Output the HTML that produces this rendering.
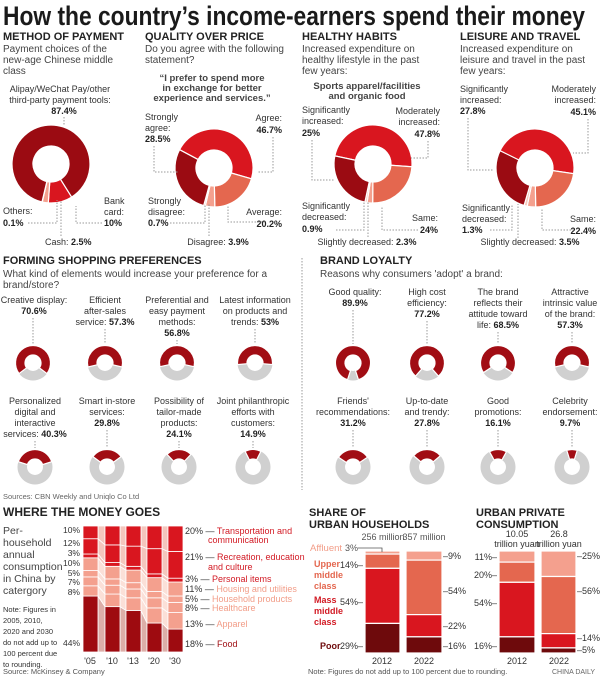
<!DOCTYPE html>
<html><head><meta charset="utf-8"><style>
html,body{margin:0;padding:0;background:#fff;}
svg{display:block;}
text{font-family:"Liberation Sans Narrow","Liberation Sans",sans-serif;font-size:9px;fill:#333;}
.h{font-family:"Liberation Sans",sans-serif;font-weight:bold;font-size:11px;fill:#222;}
.s{font-family:"Liberation Sans",sans-serif;font-size:10px;fill:#444;}
.b{font-weight:bold;fill:#222;}
.q{font-family:"Liberation Sans",sans-serif;font-weight:bold;font-size:9.5px;fill:#444;}
.m{text-anchor:middle;}
.e{text-anchor:end;}
.dl{stroke:#999;stroke-width:1;stroke-dasharray:1.5 1.5;fill:none;}
</style></head><body>
<svg id="s" width="600" height="677" viewBox="0 0 600 677" xmlns="http://www.w3.org/2000/svg">
<g id="g"></g>
<text x="3" y="25" style="font-family:'Liberation Sans',sans-serif;font-weight:bold;font-size:27px;fill:#1a1a1a" textLength="582" lengthAdjust="spacingAndGlyphs">How the country’s income-earners spend their money</text>

<text class="h" x="3" y="40">METHOD OF PAYMENT</text>
<text class="s" x="3" y="52">Payment choices of the</text>
<text class="s" x="3" y="63">new-age Chinese middle</text>
<text class="s" x="3" y="74">class</text>
<text class="h" x="145" y="40">QUALITY OVER PRICE</text>
<text class="s" x="145" y="52">Do you agree with the following</text>
<text class="s" x="145" y="63">statement?</text>
<text class="h" x="302" y="40">HEALTHY HABITS</text>
<text class="s" x="302" y="52">Increased expenditure on</text>
<text class="s" x="302" y="63">healthy lifestyle in the past</text>
<text class="s" x="302" y="74">few years:</text>
<text class="h" x="460" y="40">LEISURE AND TRAVEL</text>
<text class="s" x="460" y="52">Increased expenditure on</text>
<text class="s" x="460" y="63">leisure and travel in the past</text>
<text class="s" x="460" y="74">few years:</text>

<text class="m" x="60" y="92">Alipay/WeChat Pay/other</text>
<text class="m" x="60" y="103">third-party payment tools:</text>
<text class="m b" x="64" y="114">87.4%</text>
<path class="dl" d="M64 117V126"/>
<text x="3" y="214">Others:</text><text class="b" x="3" y="226">0.1%</text>
<text x="45" y="245">Cash: <tspan class="b">2.5%</tspan></text>
<text x="104" y="204">Bank</text><text x="104" y="215">card:</text><text class="b" x="104" y="226">10%</text>
<path class="dl" d="M28 223H57V200M61 236V200M102 223H76V206"/>

<text class="q m" x="212" y="81">“I prefer to spend more</text>
<text class="q m" x="212" y="91">in exchange for better</text>
<text class="q m" x="212" y="101">experience and services.”</text>
<text x="145" y="120">Strongly</text><text x="145" y="131">agree:</text><text class="b" x="145" y="142">28.5%</text>
<text class="e" x="282" y="121">Agree:</text><text class="e b" x="282" y="133">46.7%</text>
<text x="148" y="204">Strongly</text><text x="148" y="215">disagree:</text><text class="b" x="148" y="226">0.7%</text>
<text class="e" x="282" y="215">Average:</text><text class="e b" x="282" y="227">20.2%</text>
<text class="m" x="218" y="245">Disagree: <tspan class="b">3.9%</tspan></text>
<path class="dl" d="M154 146V172H178M273 137V172H257M170 223H205V204M209 236V204M265 222H228V205"/>

<text class="q m" x="367" y="89">Sports apparel/facilities</text>
<text class="q m" x="367" y="99">and organic food</text>
<text x="302" y="113">Significantly</text><text x="302" y="124">increased:</text><text class="b" x="302" y="136">25%</text>
<text class="e" x="440" y="114">Moderately</text><text class="e" x="440" y="125">increased:</text><text class="e b" x="440" y="137">47.8%</text>
<text x="302" y="209">Significantly</text><text x="302" y="220">decreased:</text><text class="b" x="302" y="232">0.9%</text>
<text class="e" x="438" y="221">Same:</text><text class="e b" x="438" y="233">24%</text>
<text class="m" x="367" y="245">Slightly decreased: <tspan class="b">2.3%</tspan></text>
<path class="dl" d="M312 140V180H334M428 141V158H411M336 230H364V202M368 237V202M418 230H382V206"/>

<text x="460" y="92">Significantly</text><text x="460" y="103">increased:</text><text class="b" x="460" y="114">27.8%</text>
<text class="e" x="596" y="92">Moderately</text><text class="e" x="596" y="103">increased:</text><text class="e b" x="596" y="115">45.1%</text>
<text x="462" y="211">Significantly</text><text x="462" y="222">decreased:</text><text class="b" x="462" y="233">1.3%</text>
<text class="e" x="596" y="222">Same:</text><text class="e b" x="596" y="234">22.4%</text>
<text class="m" x="530" y="245">Slightly decreased: <tspan class="b">3.5%</tspan></text>
<path class="dl" d="M468 118V170H494M588 119V153H573M490 230H512V204M518 238V204M574 230H542V208"/>

<path class="dl" d="M302 258V490"/>
<text class="h" x="3" y="264">FORMING SHOPPING PREFERENCES</text>
<text class="s" x="3" y="277">What kind of elements would increase your preference for a</text>
<text class="s" x="3" y="288">brand/store?</text>
<text class="h" x="320" y="264">BRAND LOYALTY</text>
<text class="s" x="320" y="277">Reasons why consumers 'adopt' a brand:</text>

<text class="m" x="34" y="303">Creative display:</text><text class="m b" x="34" y="314">70.6%</text>
<text class="m" x="105" y="303">Efficient</text><text class="m" x="105" y="314">after-sales</text><text class="m" x="105" y="325">service: <tspan class="b">57.3%</tspan></text>
<text class="m" x="177" y="303">Preferential and</text><text class="m" x="177" y="314">easy payment</text><text class="m" x="177" y="325">methods:</text><text class="m b" x="177" y="336">56.8%</text>
<text class="m" x="255" y="303">Latest information</text><text class="m" x="255" y="314">on products and</text><text class="m" x="255" y="325">trends: <tspan class="b">53%</tspan></text>

<text class="m" x="35" y="404">Personalized</text><text class="m" x="35" y="415">digital and</text><text class="m" x="35" y="426">interactive</text><text class="m" x="35" y="437">services: <tspan class="b">40.3%</tspan></text>
<text class="m" x="107" y="404">Smart in-store</text><text class="m" x="107" y="415">services:</text><text class="m b" x="107" y="426">29.8%</text>
<text class="m" x="179" y="404">Possibility of</text><text class="m" x="179" y="415">tailor-made</text><text class="m" x="179" y="426">products:</text><text class="m b" x="179" y="437">24.1%</text>
<text class="m" x="253" y="404">Joint philanthropic</text><text class="m" x="253" y="415">efforts with</text><text class="m" x="253" y="426">customers:</text><text class="m b" x="253" y="437">14.9%</text>

<text class="m" x="355" y="295">Good quality:</text><text class="m b" x="355" y="306">89.9%</text>
<text class="m" x="427" y="295">High cost</text><text class="m" x="427" y="306">efficiency:</text><text class="m b" x="427" y="317">77.2%</text>
<text class="m" x="498" y="295">The brand</text><text class="m" x="498" y="306">reflects their</text><text class="m" x="498" y="317">attitude toward</text><text class="m" x="498" y="328">life: <tspan class="b">68.5%</tspan></text>
<text class="m" x="570" y="295">Attractive</text><text class="m" x="570" y="306">intrinsic value</text><text class="m" x="570" y="317">of the brand:</text><text class="m b" x="570" y="328">57.3%</text>

<text class="m" x="353" y="404">Friends'</text><text class="m" x="353" y="415">recommendations:</text><text class="m b" x="353" y="426">31.2%</text>
<text class="m" x="427" y="404">Up-to-date</text><text class="m" x="427" y="415">and trendy:</text><text class="m b" x="427" y="426">27.8%</text>
<text class="m" x="498" y="404">Good</text><text class="m" x="498" y="415">promotions:</text><text class="m b" x="498" y="426">16.1%</text>
<text class="m" x="570" y="404">Celebrity</text><text class="m" x="570" y="415">endorsement:</text><text class="m b" x="570" y="426">9.7%</text>

<text x="3" y="499" style="font-size:7.5px;fill:#666">Sources: CBN Weekly and Uniqlo Co Ltd</text>

<text class="h" x="3" y="516" style="font-size:12px">WHERE THE MONEY GOES</text>
<text x="3" y="534" style="font-size:10.5px;fill:#444">Per-</text><text x="3" y="546" style="font-size:10.5px;fill:#444">household</text><text x="3" y="558" style="font-size:10.5px;fill:#444">annual</text><text x="3" y="570" style="font-size:10.5px;fill:#444">consumption</text><text x="3" y="582" style="font-size:10.5px;fill:#444">in China by</text><text x="3" y="594" style="font-size:10.5px;fill:#444">catergory</text>
<text x="3" y="612" style="font-size:7.5px">Note: Figures in</text><text x="3" y="623" style="font-size:7.5px">2005, 2010,</text><text x="3" y="634" style="font-size:7.5px">2020 and 2030</text><text x="3" y="645" style="font-size:7.5px">do not add up to</text><text x="3" y="656" style="font-size:7.5px">100 percent due</text><text x="3" y="667" style="font-size:7.5px">to rounding.</text>
<g style="fill:#555"><text class="e" x="80" y="533" style="font-size:8.5px">10%</text><text class="e" x="80" y="546" style="font-size:8.5px">12%</text><text class="e" x="80" y="556" style="font-size:8.5px">3%</text><text class="e" x="80" y="566" style="font-size:8.5px">10%</text><text class="e" x="80" y="576" style="font-size:8.5px">5%</text><text class="e" x="80" y="585" style="font-size:8.5px">7%</text><text class="e" x="80" y="595" style="font-size:8.5px">8%</text><text class="e" x="80" y="646" style="font-size:8.5px">44%</text></g>
<text class="m" x="90" y="664">'05</text><text class="m" x="112" y="664">'10</text><text class="m" x="133" y="664">'13</text><text class="m" x="154" y="664">'20</text><text class="m" x="175" y="664">'30</text>
<text x="185" y="534">20% — <tspan style="fill:#d21a24">Transportation and</tspan></text><text x="208" y="543" style="fill:#d21a24">communication</text>
<text x="185" y="560">21% — <tspan style="fill:#d21a24">Recreation, education</tspan></text><text x="208" y="570" style="fill:#d21a24">and culture</text>
<text x="185" y="582">3% — <tspan style="fill:#d21a24">Personal items</tspan></text>
<text x="185" y="592">11% — <tspan style="fill:#f29d88">Housing and utilities</tspan></text>
<text x="185" y="602">5% — <tspan style="fill:#f29d88">Household products</tspan></text>
<text x="185" y="611">8% — <tspan style="fill:#f29d88">Healthcare</tspan></text>
<text x="185" y="627">13% — <tspan style="fill:#f29d88">Apparel</tspan></text>
<text x="185" y="647">18% — <tspan style="fill:#9e0b10">Food</tspan></text>
<text x="3" y="674" style="font-size:7.5px;fill:#555">Source: McKinsey &amp; Company</text>

<text class="h" x="309" y="516">SHARE OF</text><text class="h" x="309" y="528">URBAN HOUSEHOLDS</text>
<text class="m" x="383" y="540" style="fill:#555">256 million</text><text class="m" x="424" y="540" style="fill:#555">357 million</text>
<text x="310" y="551" style="fill:#f29d88;font-size:9.5px">Affluent</text><text x="345" y="551" style="fill:#555">3%</text>
<path d="M358 548H382V552" stroke="#555" fill="none" stroke-width="0.8"/>
<text x="314" y="567" style="fill:#e4674f;font-weight:bold">Upper</text><text x="314" y="578" style="fill:#e4674f;font-weight:bold">middle</text><text x="314" y="589" style="fill:#e4674f;font-weight:bold">class</text>
<text x="314" y="603" style="fill:#d21a24;font-weight:bold">Mass</text><text x="314" y="614" style="fill:#d21a24;font-weight:bold">middle</text><text x="314" y="625" style="fill:#d21a24;font-weight:bold">class</text>
<text x="320" y="649" style="fill:#6e0a0c;font-weight:bold">Poor</text>
<g style="fill:#555"><text class="e" x="363" y="568">14%–</text><text class="e" x="363" y="605">54%–</text><text class="e" x="363" y="649">29%–</text>
<text x="443" y="559">–9%</text><text x="443" y="594">–54%</text><text x="443" y="629">–22%</text><text x="443" y="649">–16%</text>
<text class="m" x="382" y="664">2012</text><text class="m" x="424" y="664">2022</text></g>

<text class="h" x="476" y="516">URBAN PRIVATE</text><text class="h" x="476" y="528">CONSUMPTION</text>
<g style="fill:#555"><text class="m" x="517" y="537">10.05</text><text class="m" x="517" y="547">trillion yuan</text><text class="m" x="559" y="537">26.8</text><text class="m" x="559" y="547">trillion yuan</text>
<text class="e" x="497" y="560">11%–</text><text class="e" x="497" y="578">20%–</text><text class="e" x="497" y="606">54%–</text><text class="e" x="497" y="649">16%–</text>
<text x="577" y="559">–25%</text><text x="577" y="594">–56%</text><text x="577" y="641">–14%</text><text x="577" y="653">–5%</text>
<text class="m" x="517" y="664">2012</text><text class="m" x="559" y="664">2022</text></g>

<text x="308" y="674" style="font-size:7.5px;fill:#555">Note: Figures do not add up to 100 percent due to rounding.</text>
<text x="552" y="674" style="font-size:7px;fill:#666">CHINA DAILY</text>
</svg>
<script>
var g=document.getElementById('g'),NS='http://www.w3.org/2000/svg';
function el(t,a){var e=document.createElementNS(NS,t);for(var k in a)e.setAttribute(k,a[k]);g.appendChild(e);return e;}
function pt(cx,cy,r,a){a=(a-90)*Math.PI/180;return [cx+r*Math.cos(a),cy+r*Math.sin(a)];}
function arc(cx,cy,r0,r1,a0,a1,c,sw){var l=(a1-a0)>180?1:0;var p1=pt(cx,cy,r1,a0),p2=pt(cx,cy,r1,a1),p3=pt(cx,cy,r0,a1),p4=pt(cx,cy,r0,a0);
el('path',{d:'M'+p1+'A'+r1+','+r1+' 0 '+l+' 1 '+p2+'L'+p3+'A'+r0+','+r0+' 0 '+l+' 0 '+p4+'Z',fill:c,stroke:'#fff','stroke-width':sw==null?1.2:sw});}
function donut(cx,cy,r0,r1,start,segs){var a=start;segs.forEach(function(s){var b=a+s[0]*3.6;arc(cx,cy,r0,r1,a,b,s[1]);a=b;});}
var DR='#9b0b12',R='#d9161f',S='#e4674f',L='#f4a08e';
donut(51,164,18,39,148,[[10,R],[2.5,L],[0.1,'#ccc'],[87.4,DR]]);
donut(214,168,18,39,298,[[46.7,R],[20.2,S],[3.9,L],[0.7,'#f7c8bc'],[28.5,DR]]);
donut(373,164,18,39,282,[[47.8,R],[24,S],[2.3,L],[0.9,'#f7c8bc'],[25,DR]]);
donut(535,168,18,39,296,[[45.1,R],[22.4,S],[3.5,L],[1.3,'#f7c8bc'],[27.8,DR]]);
function small(cx,cy,p,ly){var h=p*1.8;arc(cx,cy,8,17.5,0.01,360,'#d0d0d0',0);arc(cx,cy,8,17.5,-h,h,'#a10d14',1.2);
el('path',{d:'M'+cx+' '+ly+'V'+(cy-19),'class':'dl'});}
small(33,363,70.6,318);small(105,363,57.3,329);small(177,363,56.8,340);small(255,363,53,329);
small(35,467,40.3,441);small(107,467,29.8,430);small(179,467,24.1,441);small(253,467,14.9,441);
small(353,363,89.9,310);small(427,363,77.2,321);small(498,363,68.5,332);small(572,363,57.3,332);
small(353,467,31.2,430);small(427,467,27.8,430);small(498,467,16.1,430);small(572,467,9.7,430);
var FD='#9e0b10',LS='#f4a08e';
var cols=[FD,LS,LS,LS,LS,R,R,R];var bcol=['#dcaea8','#fbe0d8','#fbe0d8','#fbe0d8','#fbe0d8','#f4c6bd','#f4c6bd','#f4c6bd'];
var data=[[44,8,7,5,10,3,12,10],[36,10,7,5,10,3,14,15],[33,10,7,5,10,3,16,16],[23,12,8,5,11,3,20,18],[18,13,8,5,11,3,21,20]];
var xs=[83,105,126,147,168],W=15,B=652,H=126;
var ys=data.map(function(d){var s=d.reduce(function(a,b){return a+b},0),y=B,o=[B];d.forEach(function(v){y-=v/s*H;o.push(y);});return o;});
for(var i=0;i<4;i++)for(var k=0;k<8;k++){var x1=xs[i]+W,x2=xs[i+1];el('path',{d:'M'+x1+' '+ys[i][k]+'L'+x2+' '+ys[i+1][k]+'L'+x2+' '+ys[i+1][k+1]+'L'+x1+' '+ys[i][k+1]+'Z',fill:bcol[k],stroke:'#fff','stroke-width':0.8});}
for(var i=0;i<5;i++)for(var k=0;k<8;k++)el('rect',{x:xs[i],y:ys[i][k+1],width:W,height:ys[i][k]-ys[i][k+1],fill:cols[k],stroke:'#fff','stroke-width':0.8});
function stack(x,w,top,bot,segs){var y=top,h=bot-top,s=segs.reduce(function(a,b){return a+b[0]},0);segs.forEach(function(t){var hh=t[0]/s*h;el('rect',{x:x,y:y,width:w,height:hh,fill:t[1],stroke:'#fff','stroke-width':1.2});y+=hh;});}
var PD='#6e0a0c';
stack(365,35,551,653,[[3,L],[14,S],[54,R],[29,PD]]);
stack(406,36,551,653,[[9,L],[54,S],[22,R],[16,PD]]);
stack(499,36,551,653,[[11,L],[20,S],[54,R],[16,PD]]);
stack(541,35,551,653,[[25,L],[56,S],[14,R],[5,PD]]);
</script>
</body></html>
